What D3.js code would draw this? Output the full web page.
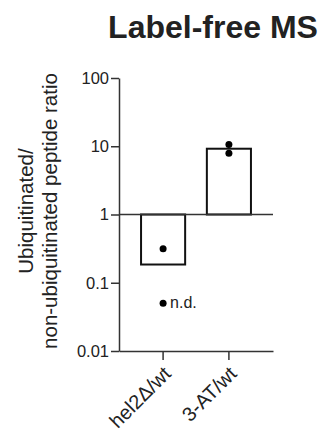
<!DOCTYPE html>
<html>
<head>
<meta charset="utf-8">
<script src="https://cdn.jsdelivr.net/npm/d3@7"></script>
<style>
  body { margin: 0; background: #fff; }
  svg { display: block; }
  text { font-family: Arial, "Liberation Sans", Helvetica, sans-serif; fill: #222; }
</style>
</head>
<body>
<div id="chart"></div>
<script>
// values
var categories = ["hel2Δ/wt", "3-AT/wt"];
var barValues = [0.185, 9.2];
var dotCategories = ["hel2Δ/wt", "3-AT/wt", "3-AT/wt"];
var dotValues = [0.315, 10.6, 7.9];
var ndCategory = "hel2Δ/wt";
var ndValue = 0.05;
var yTicks = [0.01, 0.1, 1, 10, 100];
var yTickLabels = ["0.01", "0.1", "1", "10", "100"];

var width = 320, height = 437;
var margin = {top: 78, left: 119, right: 47, bottom: 86};

var svg = d3.select("#chart").append("svg")
    .attr("width", width)
    .attr("height", height);

var x = d3.scaleBand()
    .domain(categories)
    .range([margin.left, width - margin.right])
    .paddingInner(0.33)
    .paddingOuter(0.335);

var y = d3.scaleLog()
    .domain([0.01, 100])
    .range([height - margin.bottom, margin.top]);

// title
svg.append("text")
    .attr("x", 213)
    .attr("y", 38)
    .attr("text-anchor", "middle")
    .style("font-size", "32px")
    .style("font-weight", "bold")
    .text("Label-free MS");

// y axis
var yAxis = svg.append("g")
    .attr("transform", "translate(" + margin.left + ",0)")
    .call(d3.axisLeft(y)
      .tickValues(yTicks)
      .tickFormat(function(d, i) { return yTickLabels[i]; })
      .tickSize(8)
      .tickSizeOuter(0));
yAxis.selectAll("path, line").attr("stroke", "#333").attr("stroke-width", 1.5);
yAxis.selectAll("text")
    .style("font-size", "16.5px")
    .attr("fill", "#222")
    .attr("x", -10);

// x axis at bottom
var xAxis = svg.append("g")
    .attr("transform", "translate(0," + y(0.01) + ")")
    .call(d3.axisBottom(x).tickSize(9).tickSizeOuter(0));
xAxis.selectAll("path, line").attr("stroke", "#333").attr("stroke-width", 1.5);
xAxis.selectAll("text")
    .style("font-size", "20px")
    .attr("fill", "#222")
    .attr("text-anchor", "end")
    .attr("dy", null)
    .attr("y", 0)
    .attr("transform", "translate(9,24) rotate(-45)");

// y axis title
var yl = svg.append("text")
    .attr("transform", "translate(33,211) rotate(-90)")
    .attr("text-anchor", "middle")
    .style("font-size", "20.5px");
yl.append("tspan").attr("x", 0).attr("y", 0).text("Ubiquitinated/");
yl.append("tspan").attr("x", 0).attr("y", 24).text("non-ubiquitinated peptide ratio");

// bars, drawn from 1
svg.selectAll(".bar")
  .data(barValues)
  .enter().append("rect")
    .attr("class", "bar")
    .attr("x", function(d, i) { return x(categories[i]); })
    .attr("width", x.bandwidth())
    .attr("y", function(d) { return Math.min(y(1), y(d)); })
    .attr("height", function(d) { return Math.abs(y(1) - y(d)); })
    .attr("fill", "#fff")
    .attr("stroke", "#111")
    .attr("stroke-width", 2);

// baseline at 1
svg.append("line")
    .attr("x1", margin.left)
    .attr("x2", width - margin.right)
    .attr("y1", y(1))
    .attr("y2", y(1))
    .attr("stroke", "#333")
    .attr("stroke-width", 1.5);

// replicate dots
svg.selectAll(".dot")
  .data(dotValues)
  .enter().append("circle")
    .attr("class", "dot")
    .attr("cx", function(d, i) { return x(dotCategories[i]) + x.bandwidth() / 2; })
    .attr("cy", function(d) { return y(d); })
    .attr("r", 3.5)
    .attr("fill", "#000");

// not detected
svg.append("circle")
    .attr("cx", x(ndCategory) + x.bandwidth() / 2)
    .attr("cy", y(ndValue))
    .attr("r", 3.5)
    .attr("fill", "#000");
svg.append("text")
    .attr("x", x(ndCategory) + x.bandwidth() / 2 + 7)
    .attr("y", y(ndValue) + 5)
    .style("font-size", "16px")
    .text("n.d.");
</script>
</body>
</html>
